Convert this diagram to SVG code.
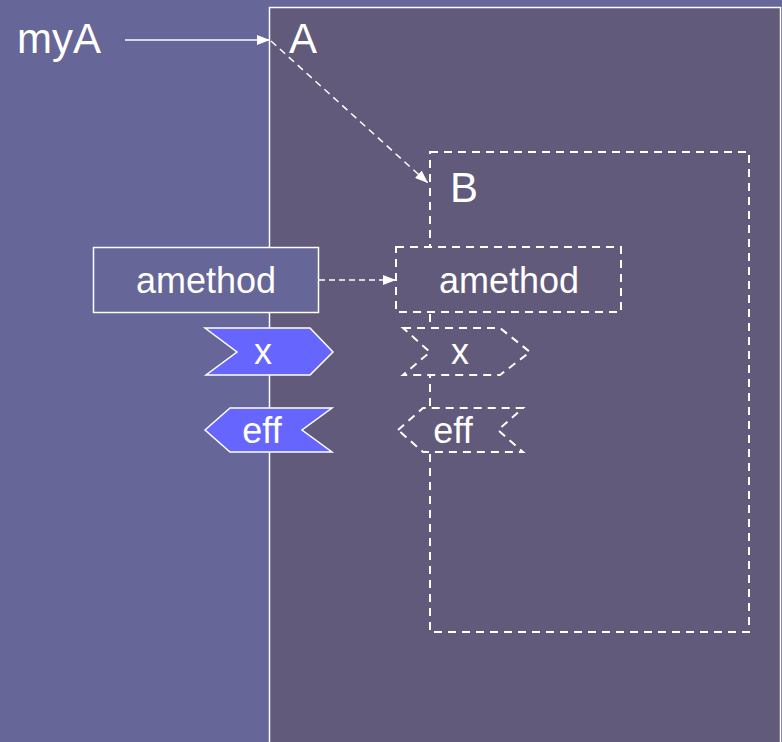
<svg xmlns="http://www.w3.org/2000/svg" width="782" height="742" viewBox="0 0 782 742">
<defs>
<style>
.t{font-family:"Liberation Sans",Arial,sans-serif;fill:#ffffff}
.big{font-size:42px}
.lbl{font-size:36px;text-anchor:middle}
.dash{fill:#615a7b;stroke:#ffffff;stroke-width:2;stroke-dasharray:8 6}
.solid{stroke:#ffffff;stroke-width:1.5}
.conn{stroke:#ffffff;stroke-width:1.5;fill:none}
</style>
<marker id="ah" viewBox="0 0 13 10" refX="13" refY="5" markerWidth="13" markerHeight="10" markerUnits="userSpaceOnUse" orient="auto">
<path d="M0,0 L13,5 L0,10 Z" fill="#ffffff"/>
</marker>
</defs>
<rect x="0" y="0" width="782" height="742" fill="#666699"/>
<g id="A">
<rect x="269.5" y="7.5" width="511" height="740" fill="#615a7b" stroke="#ffffff" stroke-width="1.5"/>
<text class="t big" x="289" y="53">A</text>
</g>
<g id="myA">
<text class="t big" x="17" y="53">myA</text>
</g>
<g id="B">
<rect x="430" y="152" width="319" height="480" fill="none" stroke="#ffffff" stroke-width="2" stroke-dasharray="8 6"/>
<text class="t big" x="450" y="202">B</text>
</g>
<g id="amethod-left">
<rect class="solid" x="93.5" y="247.5" width="225" height="65" fill="#666699"/>
<text class="t lbl" x="206" y="293">amethod</text>
</g>
<g id="x-left">
<polygon class="solid" points="205,328 310,328 333,352 310,375 206,375 237,352" fill="#6666ff"/>
<text class="t lbl" x="263" y="364">x</text>
</g>
<g id="eff-left">
<polygon class="solid" points="205,430 230,408 332,408 302,430 332,452 230,452" fill="#6666ff"/>
<text class="t lbl" x="262" y="443">eff</text>
</g>
<g id="amethod-right">
<rect class="dash" x="396" y="247" width="225" height="65"/>
<text class="t lbl" x="509" y="293">amethod</text>
</g>
<g id="x-right">
<polygon class="dash" points="403,328 500,328 530,352 500,375 403,375 430,352"/>
<text class="t lbl" x="460" y="364">x</text>
</g>
<g id="eff-right">
<polygon class="dash" points="398,430 423,408 523,408 498,430 523,452 423,452"/>
<text class="t lbl" x="453" y="443">eff</text>
</g>
<g id="connectors">
<line class="conn" x1="125" y1="40" x2="270" y2="40" marker-end="url(#ah)"/>
<line class="conn" x1="271" y1="41" x2="428" y2="183" stroke-dasharray="7 5" marker-end="url(#ah)"/>
<line class="conn" x1="319" y1="280" x2="396" y2="280" stroke-dasharray="6 4" marker-end="url(#ah)"/>
</g>
</svg>
